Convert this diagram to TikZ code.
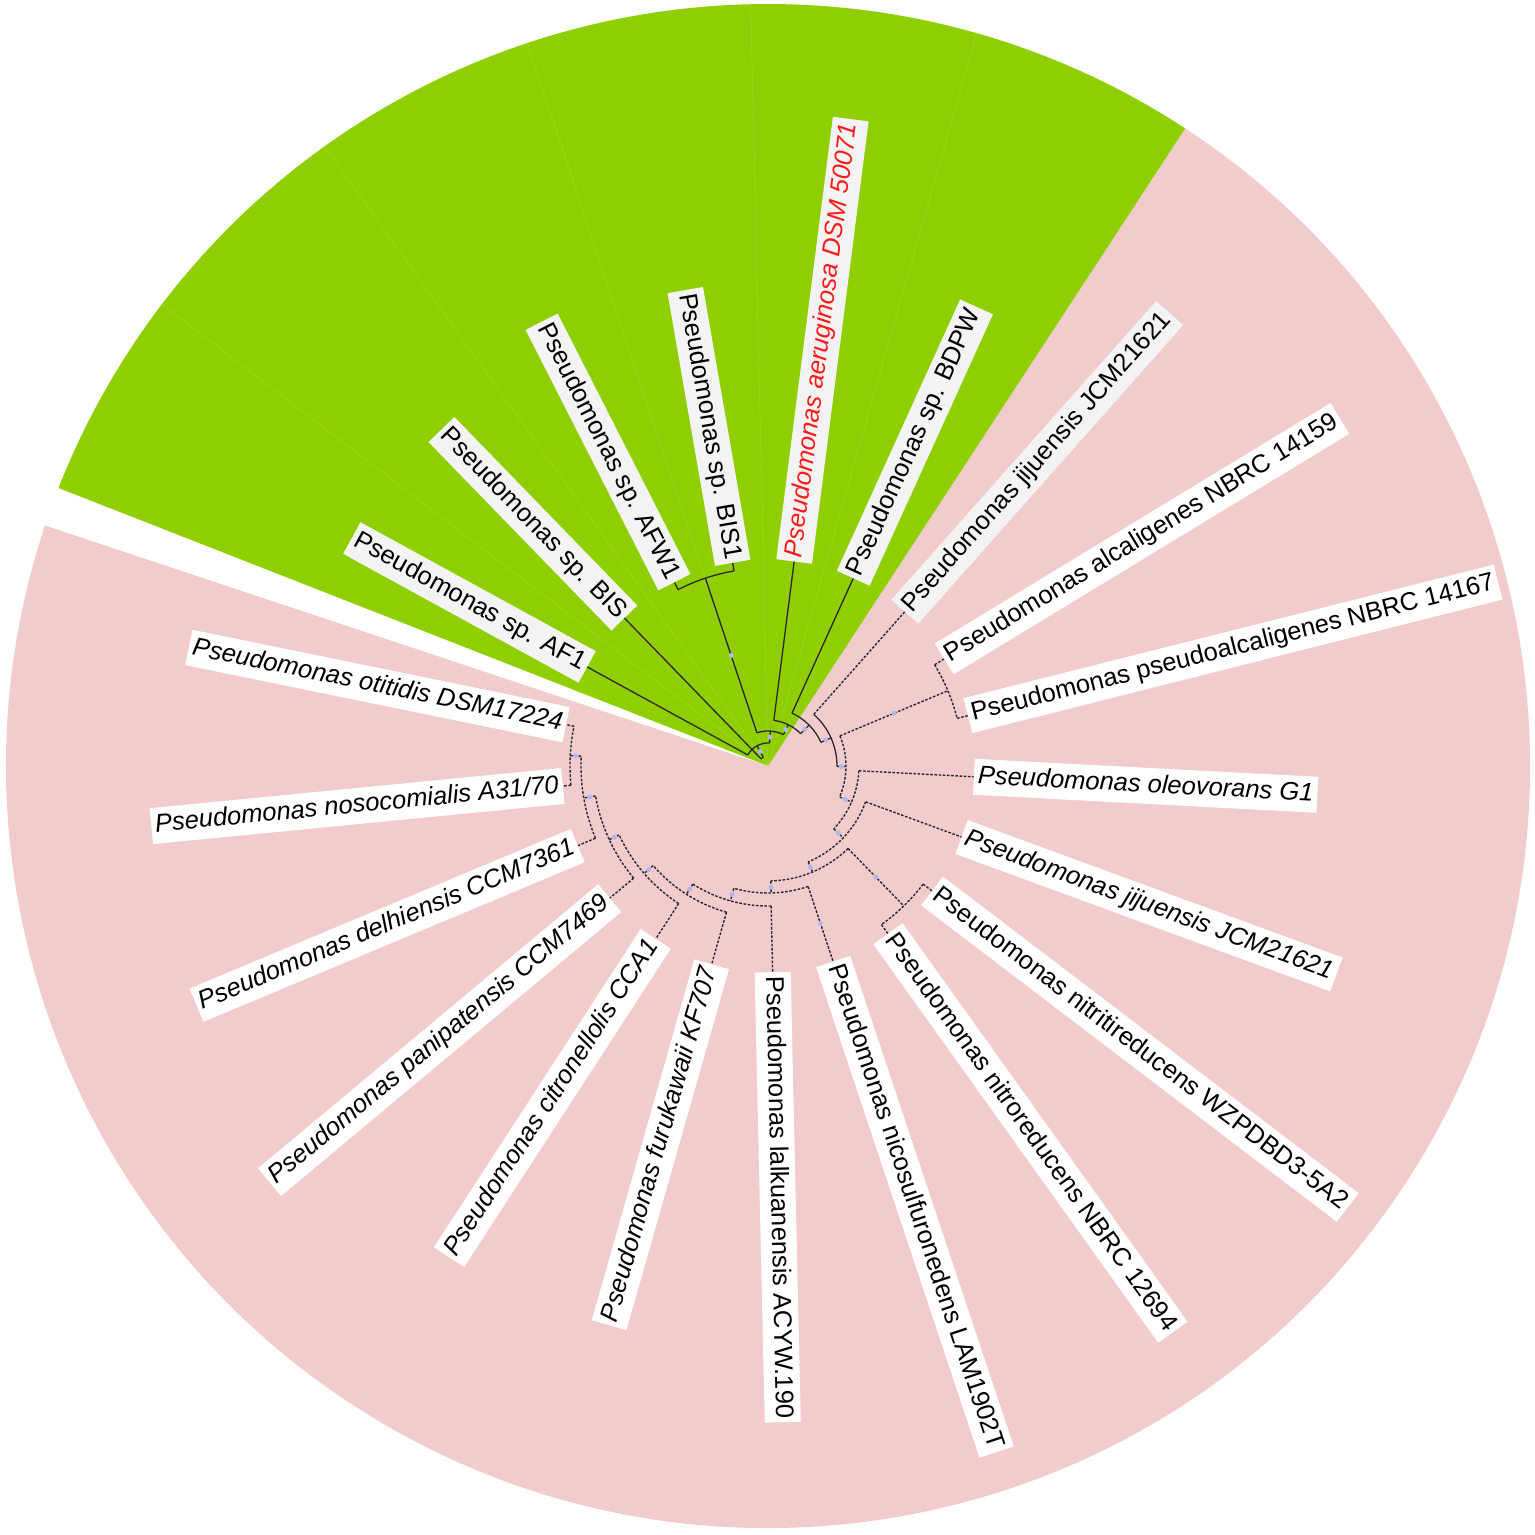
\documentclass[tikz,border=0pt]{standalone}
\usepackage{fontspec}
\setmainfont{Liberation Sans}
\usetikzlibrary{positioning}
\definecolor{clade}{HTML}{8FCE00}
\definecolor{others}{HTML}{F2CCCC}
\definecolor{branch}{HTML}{2A2A2A}
\definecolor{bootstrap}{HTML}{AEB6F4}
\definecolor{query}{HTML}{FF1A1A}
\definecolor{tagfill}{HTML}{F3F3F3}

\begin{document}
\begin{tikzpicture}[
  x=1pt, y=1pt,
  lbl/.style={fill=white, inner xsep=4pt, inner ysep=6pt, text height=18.5pt, text depth=5.5pt,
              font=\fontsize{25.5}{28}\selectfont},
  lblit/.style={lbl, font=\fontsize{25.5}{28}\selectfont\itshape},
  sp/.style={lbl, fill=tagfill},
  spit/.style={lblit, fill=tagfill, text=query},
  br/.style={draw=branch, line width=1.3pt},
  dbr/.style={br, line width=1.4pt, dash pattern=on 2.6pt off 1.6pt},
  boot/.style={circle, fill=bootstrap, inner sep=0pt, minimum size=5pt},
  seam/.style={draw=white, opacity=0.1, line width=1pt}
]
  \useasboundingbox (-768,-769) rectangle (767,766);
  % coloured ranges
  \fill[others] (0,0) -- (56.8:762) arc[start angle=56.8, end angle=-198.4, radius=762pt] -- cycle;
  \fill[clade] (0,0) -- (56.8:762) arc[start angle=56.8, end angle=158.6, radius=762pt] -- cycle;
  \foreach \a in {74.1,91.3,108.4,125.6,142.7}
    \draw[seam] (0,0) -- (\a:762);

  % leaf labels
  \node[lbl, anchor=west, rotate=14.14] (pseudo) at (14.14:206) {Pseudomonas pseudoalcaligenes NBRC 14167};
  \node[lbl, anchor=west, rotate=31.29] (alc) at (31.29:206) {Pseudomonas alcaligenes NBRC 14159};
  \node[sp, anchor=west, rotate=48.43] (jijup) at (48.43:206) {Pseudomonas jijuensis JCM21621};
  \node[sp, anchor=west, rotate=65.57] (bdpw) at (65.57:206) {Pseudomonas sp. BDPW};
  \node[spit, anchor=west, rotate=82.71] (aeru) at (82.71:206) {Pseudomonas aeruginosa DSM 50071};
  \node[sp, anchor=east, rotate=-80.14] (bis1) at (99.86:206) {Pseudomonas sp. BIS1};
  \node[sp, anchor=east, rotate=-63] (afw1) at (117:206) {Pseudomonas sp. AFW1};
  \node[sp, anchor=east, rotate=-45.86] (bis) at (134.14:206) {Pseudomonas sp. BIS};
  \node[sp, anchor=east, rotate=-28.71] (af1) at (151.29:206) {Pseudomonas sp. AF1};
  \node[lblit, anchor=east, rotate=-11.57] (otit) at (168.43:206) {Pseudomonas otitidis DSM17224};
  \node[lblit, anchor=east, rotate=5.57] (nosoc) at (-174.43:206) {Pseudomonas nosocomialis A31/70};
  \node[lblit, anchor=east, rotate=22.71] (delhi) at (-157.29:206) {Pseudomonas delhiensis CCM7361};
  \node[lblit, anchor=east, rotate=39.86] (panip) at (-140.14:206) {Pseudomonas panipatensis CCM7469};
  \node[lblit, anchor=east, rotate=57] (citron) at (-123:206) {Pseudomonas citronellolis CCA1};
  \node[lblit, anchor=east, rotate=74.14] (furuk) at (-105.86:206) {Pseudomonas furukawaii KF707};
  \node[lbl, anchor=west, rotate=-88.71] (lalk) at (-88.71:206) {Pseudomonas lalkuanensis ACYW.190};
  \node[lbl, anchor=west, rotate=-71.57] (nicos) at (-71.57:206) {Pseudomonas nicosulfuronedens LAM1902T};
  \node[lbl, anchor=west, rotate=-54.43] (nitro) at (-54.43:206) {Pseudomonas nitroreducens NBRC 12694};
  \node[lbl, anchor=west, rotate=-37.29] (nitri) at (-37.29:206) {Pseudomonas nitritireducens WZPDBD3-5A2};
  \node[lblit, anchor=west, rotate=-20.14] (jijlow) at (-20.14:206) {Pseudomonas jijuensis JCM21621};
  \node[lblit, anchor=west, rotate=-3] (oleo) at (-3:206) {Pseudomonas oleovorans G1};

  % root
  \coordinate (root) at (134.14:10);
  \draw[br] (root) arc[start angle=134.14, end angle=118.7, radius=10pt];

  % internal nodes: name/angle/radius/parent radius/arc from/arc to/stem/arc
  \foreach \n/\a/\r/\p/\f/\t/\s/\c in {
      gA/118.7/23/10/151.29/86.1/br/br,
      gB/86.1/35/23/108.43/63.76/br/br,
      wb/108.43/198/35/117/99.86/br/br,
      cN/63.76/46/35/82.71/44.81/br/br,
      bN/44.81/58/46/65.57/24.06/br/br,
      aN/24.06/69/58/48.43/-0.31/br/br,
      n1/-0.31/78/69/22.71/-23.34/br/dbr,
      ap/22.71/195/78/31.29/14.14/dbr/dbr,
      n2/-23.34/91/78/-3/-43.68/dbr/dbr,
      n3/-43.68/104/91/-20.14/-67.22/dbr/dbr,
      n4/-67.22/115/104/-45.86/-88.58/dbr/dbr,
      nn/-45.86/195/115/-37.29/-54.43/dbr/dbr,
      n5/-88.58/127/115/-71.57/-105.59/dbr/dbr,
      tN/-105.59/140/127/-88.71/-122.46/dbr/dbr,
      sN/-122.46/152/140/-105.86/-139.07/dbr/dbr,
      rN/-139.07/164/152/-123/-155.14/dbr/dbr,
      qN/-155.14/175/164/-140.14/-170.14/dbr/dbr,
      pN/-170.14/187/175/-157.29/-183/dbr/dbr,
      on/-183/198/187/-174.43/-191.57/dbr/dbr}{
    \coordinate (\n-in) at (\a:\p);
    \coordinate (\n) at (\a:\r);
    \coordinate (\n-from) at (\f:\r);
    \draw[\s] (\n-in) -- (\n);
    \draw[\c] (\n-from) arc[start angle=\f, end angle=\t, radius=\r pt];
    \pgfmathsetmacro\m{(\r+\p)/2}
    \node[boot] (\n-bs) at (\a:\m) {};
  }

  % leaf branches
  \foreach \n/\a/\p/\s in {
      pseudo/14.14/195/dbr, alc/31.29/195/dbr, jijup/48.43/69/dbr,
      bdpw/65.57/58/br, aeru/82.71/46/br, bis1/99.86/198/br,
      afw1/117/198/br, bis/134.14/10/br, af1/151.29/23/br,
      otit/168.43/198/dbr, nosoc/-174.43/198/dbr, delhi/-157.29/187/dbr,
      panip/-140.14/175/dbr, citron/-123/164/dbr, furuk/-105.86/152/dbr,
      lalk/-88.71/140/dbr, nicos/-71.57/127/dbr, nitro/-54.43/195/dbr,
      nitri/-37.29/195/dbr, jijlow/-20.14/104/dbr, oleo/-3/91/dbr}{
    \coordinate (\n-base) at (\a:\p);
    \draw[\s] (\n-base) -- (\n);
  }
  \node[boot] (nicos-bs) at (-71.57:166) {};
\end{tikzpicture}
\end{document}
